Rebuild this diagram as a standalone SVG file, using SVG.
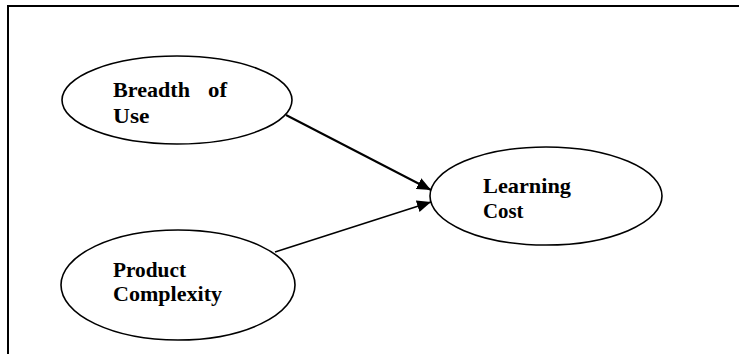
<svg xmlns="http://www.w3.org/2000/svg" width="739" height="354" viewBox="0 0 739 354">
<style>
.frame{stroke:#000;stroke-width:2;fill:none}
.node{fill:#fff;stroke:#000;stroke-width:1.6}
.lbl{font-family:"Liberation Serif","Times New Roman",serif;font-weight:bold;font-size:21px;fill:#000}
.edge{stroke:#000;fill:none}
</style>
<defs>
<marker id="arr" markerWidth="14" markerHeight="12" refX="14" refY="6" orient="auto" markerUnits="userSpaceOnUse">
<path d="M0,0 L14,6 L0,12 Z" fill="#000"/>
</marker>
</defs>
<rect width="739" height="354" fill="#fff"/>
<g id="frame">
<line class="frame" x1="7" y1="6" x2="739" y2="6"/>
<line class="frame" x1="8" y1="5" x2="8" y2="354"/>
</g>
<g id="connectors">
<line class="edge" stroke-width="2" x1="286" y1="115" x2="431" y2="190" marker-end="url(#arr)"/>
<line class="edge" stroke-width="1.5" x1="275" y1="252" x2="431" y2="202" marker-end="url(#arr)"/>
</g>
<g id="breadth">
<ellipse class="node" cx="177" cy="100" rx="115" ry="44"/>
<text class="lbl" x="113" y="97" textLength="77" lengthAdjust="spacingAndGlyphs">Breadth</text>
<text class="lbl" x="208" y="97" textLength="19" lengthAdjust="spacingAndGlyphs">of</text>
<text class="lbl" x="113" y="123" textLength="36.5" lengthAdjust="spacingAndGlyphs">Use</text>
</g>
<g id="complexity">
<ellipse class="node" cx="178" cy="285" rx="117" ry="55"/>
<text class="lbl" x="113" y="277" textLength="73" lengthAdjust="spacingAndGlyphs">Product</text>
<text class="lbl" x="113" y="301" textLength="109" lengthAdjust="spacingAndGlyphs">Complexity</text>
</g>
<g id="learning">
<ellipse class="node" cx="546" cy="196" rx="116" ry="49"/>
<text class="lbl" x="483" y="193" textLength="88" lengthAdjust="spacingAndGlyphs">Learning</text>
<text class="lbl" x="483" y="218" textLength="40.5" lengthAdjust="spacingAndGlyphs">Cost</text>
</g>
</svg>
